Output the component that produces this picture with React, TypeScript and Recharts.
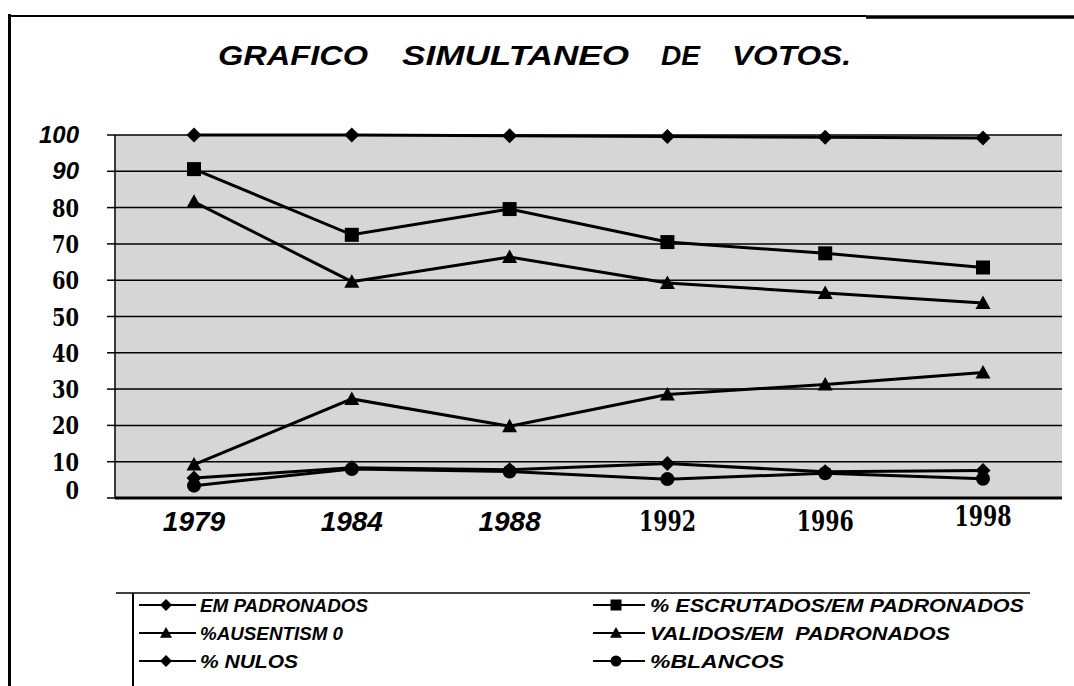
import React from "react";
import { LineChart, Line, XAxis, YAxis, CartesianGrid } from "recharts";

// values (percent)
const years = ["1979", "1984", "1988", "1992", "1996", "1998"];
const empadronados = [100, 100, 99.8, 99.6, 99.4, 99.2];
const escrutados = [90.6, 72.5, 79.6, 70.5, 67.4, 63.5];
const ausentismo = [9.2, 27.3, 19.8, 28.5, 31.3, 34.6];
const validos = [81.6, 59.6, 66.4, 59.2, 56.5, 53.7];
const nulos = [5.5, 8.3, 7.8, 9.5, 7.2, 7.6];
const blancos = [3.4, 8.0, 7.3, 5.2, 6.8, 5.3];
const yTicks = [0, 10, 20, 30, 40, 50, 60, 70, 80, 90, 100];

const data = years.map((year, i) => ({
  year,
  empadronados: empadronados[i],
  escrutados: escrutados[i],
  ausentismo: ausentismo[i],
  validos: validos[i],
  nulos: nulos[i],
  blancos: blancos[i],
}));

type Shape = "diamond" | "square" | "triangle" | "circle";

const series: { key: string; label: string; shape: Shape; len: number }[] = [
  { key: "empadronados", label: "EM PADRONADOS", shape: "diamond", len: 168 },
  { key: "escrutados", label: "% ESCRUTADOS/EM PADRONADOS", shape: "square", len: 374 },
  { key: "ausentismo", label: "%AUSENTISM 0", shape: "triangle", len: 143 },
  { key: "validos", label: "VALIDOS/EM  PADRONADOS", shape: "triangle", len: 300 },
  { key: "nulos", label: "% NULOS", shape: "diamond", len: 98 },
  { key: "blancos", label: "%BLANCOS", shape: "circle", len: 134 },
];

// title words and where they sit on the scan
const titleWords = [
  { w: "GRAFICO", x: 218, len: 150 },
  { w: "SIMULTANEO", x: 402, len: 227 },
  { w: "DE", x: 661, len: 39 },
  { w: "VOTOS.", x: 732, len: 119 },
];

const sans = "'Liberation Sans', Arial, sans-serif";
const heavySerif = "'DejaVu Serif Condensed', 'DejaVu Serif', serif";

function Marker({ shape, cx, cy, s = 7.5 }: { shape: Shape; cx: number; cy: number; s?: number }) {
  if (shape === "diamond")
    return <polygon points={`${cx},${cy - s} ${cx + s},${cy} ${cx},${cy + s} ${cx - s},${cy}`} fill="#000" />;
  if (shape === "square")
    return <rect x={cx - s + 0.5} y={cy - s + 0.5} width={2 * s - 1} height={2 * s - 1} fill="#000" />;
  if (shape === "triangle")
    return <polygon points={`${cx},${cy - s} ${cx + s},${cy + s * 0.8} ${cx - s},${cy + s * 0.8}`} fill="#000" />;
  return <circle cx={cx} cy={cy} r={s - 0.5} fill="#000" />;
}

const YTick = ({ x, y, payload }: any) => {
  const v = payload.value;
  const label = String(v);
  if (v >= 90) {
    return (
      <text x={x - 26} y={y + 8} textAnchor="end" fontFamily={sans} fontStyle="italic"
        fontWeight="bold" fontSize={24} fill="#000">
        {label}
      </text>
    );
  }
  return (
    <text x={x - 26} y={y + (v === 0 ? 1 : 9)} textAnchor="end" fontFamily={heavySerif}
      fontWeight="bold" fontSize={25} textLength={label.length * 13.5}
      lengthAdjust="spacingAndGlyphs" fill="#000">
      {label}
    </text>
  );
};

const XTick = ({ x, y, payload }: any) => {
  const year = payload.value as string;
  if (Number(year) < 1990) {
    return (
      <text x={x} y={y + 25} textAnchor="middle" fontFamily={sans} fontStyle="italic"
        fontWeight="bold" fontSize={28} fill="#000">
        {year}
      </text>
    );
  }
  return (
    <text x={x} y={y + (year === "1998" ? 20 : 25)} textAnchor="middle" fontFamily={heavySerif}
      fontWeight="bold" fontSize={27} textLength={57} lengthAdjust="spacingAndGlyphs" fill="#000">
      {year}
    </text>
  );
};

export default function App() {
  return (
    <div style={{ position: "absolute", left: 0, top: 0, width: 1074, height: 686, background: "#fff" }}>
      <LineChart
        width={1074}
        height={686}
        data={data}
        margin={{ top: 135, right: 12, bottom: 128, left: 15 }}
      >
        <CartesianGrid vertical={false} stroke="#000" strokeWidth={1.5} fill="#d6d6d6" fillOpacity={1} />
        <XAxis
          dataKey="year"
          height={60}
          padding={{ left: 79, right: 79 }}
          tickLine={false}
          axisLine={{ stroke: "#000", strokeWidth: 3 }}
          tick={<XTick />}
          interval={0}
        />
        <YAxis
          width={100}
          domain={[0, 100]}
          ticks={yTicks}
          interval={0}
          tickSize={8}
          tickLine={{ stroke: "#000", strokeWidth: 1.5 }}
          axisLine={{ stroke: "#000", strokeWidth: 1.5 }}
          tick={<YTick />}
        />
        {series.map((s) => (
          <Line
            key={s.key}
            dataKey={s.key}
            name={s.label}
            type="linear"
            stroke="#000"
            strokeWidth={3}
            isAnimationActive={false}
            dot={(p: any) => <Marker key={`${s.key}-${p.index}`} shape={s.shape} cx={p.cx} cy={p.cy} />}
            activeDot={false}
          />
        ))}
      </LineChart>
      <svg
        width={1074}
        height={686}
        style={{ position: "absolute", left: 0, top: 0, pointerEvents: "none" }}
      >
        {/* scanned frame */}
        <line x1={9.5} y1={14} x2={9.5} y2={686} stroke="#000" strokeWidth={3} />
        <line x1={8} y1={16} x2={866} y2={16} stroke="#000" strokeWidth={2} />
        <line x1={866} y1={17} x2={1074} y2={17} stroke="#000" strokeWidth={3.5} />
        {titleWords.map((t) => (
          <text
            key={t.w}
            x={t.x}
            y={65}
            fontFamily={sans}
            fontStyle="italic"
            fontWeight="bold"
            fontSize={28}
            textLength={t.len}
            lengthAdjust="spacingAndGlyphs"
            fill="#000"
          >
            {t.w}
          </text>
        ))}
        {/* legend box */}
        <line x1={116} y1={593} x2={1030} y2={593} stroke="#000" strokeWidth={1.5} />
        <line x1={133} y1={593} x2={133} y2={686} stroke="#000" strokeWidth={2} />
        {series.map((s, i) => {
          const col = i % 2;
          const row = Math.floor(i / 2);
          const cy = 605 + row * 28;
          const x0 = col === 0 ? 139 : 593;
          const x1 = col === 0 ? 196 : 645;
          const mx = col === 0 ? 166 : 616;
          return (
            <g key={s.key}>
              <line x1={x0} y1={cy} x2={x1} y2={cy} stroke="#000" strokeWidth={2} />
              <Marker shape={s.shape} cx={mx} cy={cy} s={6} />
              <text
                x={col === 0 ? 200 : 650}
                y={cy + 7}
                fontFamily={sans}
                fontStyle="italic"
                fontWeight="bold"
                fontSize={19}
                textLength={s.len}
                lengthAdjust="spacingAndGlyphs"
                fill="#000"
                style={{ whiteSpace: "pre" }}
              >
                {s.label}
              </text>
            </g>
          );
        })}
      </svg>
    </div>
  );
}
